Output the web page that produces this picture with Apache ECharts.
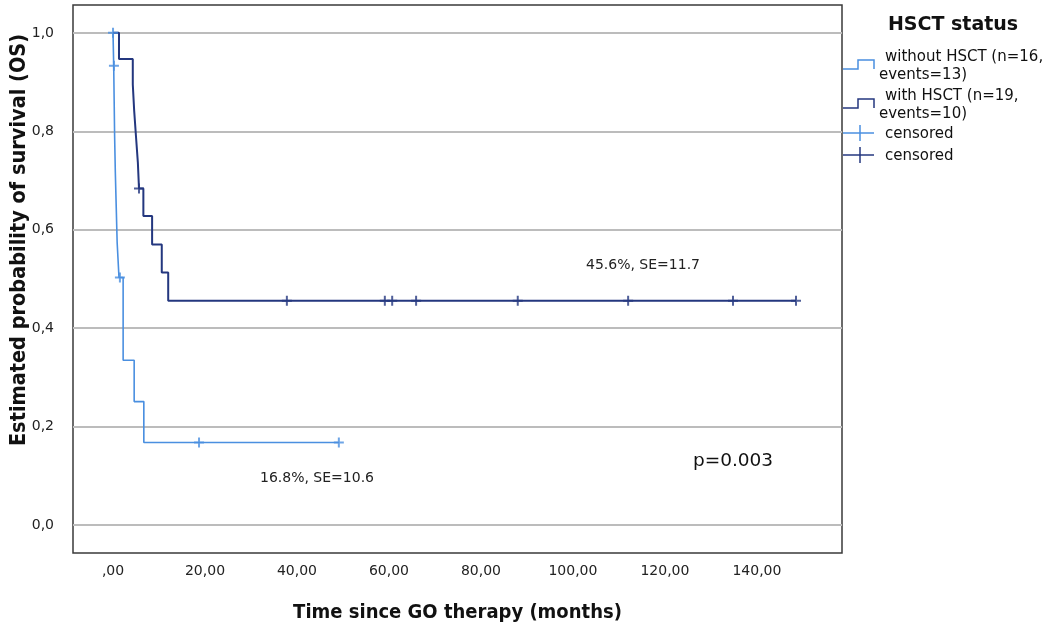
<!DOCTYPE html>
<html>
<head>
<meta charset="utf-8">
<script src="https://cdn.jsdelivr.net/npm/echarts@6/dist/echarts.min.js"></script>
<style>
  html, body { margin: 0; padding: 0; background: #fff; }
  #chart { width: 1063px; height: 628px; }
</style>
</head>
<body>
<div id="chart"></div>
<script>
// without HSCT (light blue) - step points [time, survival]
var withoutTime = [0, 0.15, 0.25, 0.35, 0.5, 0.7, 0.9, 1.3, 2.2, 4.6, 6.7, 49.1]
var withoutSurv = [1.0, 0.933, 0.862, 0.79, 0.718, 0.646, 0.574, 0.503, 0.335, 0.251, 0.168, 0.168]
var withoutCensorTime = [0, 0.2, 1.5, 18.7, 49.1]
var withoutCensorSurv = [1.0, 0.933, 0.503, 0.168, 0.168]

// with HSCT (dark blue)
var withTime = [0, 1.3, 4.3, 4.6, 5.0, 5.4, 5.65, 6.6, 8.5, 10.6, 12.0, 148.5]
var withSurv = [1.0, 0.947, 0.895, 0.842, 0.789, 0.737, 0.684, 0.628, 0.57, 0.513, 0.456, 0.456]
var withCensorTime = [5.65, 37.8, 59.1, 60.7, 65.9, 88.0, 112.0, 134.8, 148.5]
var withCensorSurv = [0.684, 0.456, 0.456, 0.456, 0.456, 0.456, 0.456, 0.456, 0.456]

var xTicks = [0, 20, 40, 60, 80, 100, 120, 140]
var yTicks = [0, 0.2, 0.4, 0.6, 0.8, 1.0]

var lightBlue = '#4a8fe0'
var darkBlue = '#24377f'
var crossPath = 'path://M4,0h2v4h4v2h-4v4h-2v-4h-4v-2h4z'

function zip(a, b) {
    var out = []
    a.forEach(function (v, i) { out.push([v, b[i]]) })
    return out
}

var myChart = echarts.init(document.getElementById('chart'))
myChart.setOption({
    animation: false,
    grid: {
        left: 73, top: 5, right: 221, bottom: 72,
        show: true, borderColor: '#3a3a3a', borderWidth: 1.5
    },
    xAxis: {
        type: 'value',
        min: -8.7,
        max: 158.5,
        name: 'Time since GO therapy (months)',
        nameLocation: 'middle',
        nameGap: 50,
        nameTextStyle: { fontFamily: 'DejaVu Sans Condensed', fontWeight: 'bold', fontSize: 20, color: '#111' },
        axisLine: { show: false },
        axisTick: { show: false, customValues: xTicks },
        splitLine: { show: false },
        axisLabel: {
            customValues: xTicks,
            margin: 11,
            fontFamily: 'DejaVu Sans',
            fontSize: 14,
            color: '#222',
            formatter: function (v) { return v === 0 ? ',00' : v + ',00' }
        }
    },
    yAxis: {
        type: 'value',
        min: -0.0566,
        max: 1.0566,
        axisLine: { show: false },
        axisTick: { show: false, customValues: yTicks },
        splitLine: { show: true, lineStyle: { color: '#bcbcbc', width: 1.8 } },
        axisLabel: {
            customValues: yTicks,
            margin: 19,
            fontFamily: 'DejaVu Sans',
            fontSize: 14,
            color: '#222',
            formatter: function (v) { return v.toFixed(1).replace('.', ',') }
        }
    },
    series: [
        {
            name: 'without HSCT',
            type: 'line',
            step: 'end',
            symbol: 'none',
            data: zip(withoutTime, withoutSurv),
            lineStyle: { color: lightBlue, width: 1.6 },
            z: 3
        },
        {
            name: 'with HSCT',
            type: 'line',
            step: 'end',
            symbol: 'none',
            data: zip(withTime, withSurv),
            lineStyle: { color: darkBlue, width: 2 },
            z: 4
        },
        {
            name: 'censored light',
            type: 'scatter',
            symbol: crossPath,
            symbolSize: 10,
            data: zip(withoutCensorTime, withoutCensorSurv),
            itemStyle: { color: lightBlue },
            z: 5
        },
        {
            name: 'censored dark',
            type: 'scatter',
            symbol: crossPath,
            symbolSize: 10,
            data: zip(withCensorTime, withCensorSurv),
            itemStyle: { color: darkBlue },
            z: 6
        }
    ],
    graphic: [
        {
            type: 'text', x: 19, y: 240, rotation: Math.PI / 2,
            style: {
                text: 'Estimated probability of survival (OS)',
                fontFamily: 'DejaVu Sans Condensed', fontWeight: 'bold', fontSize: 21.5,
                fill: '#111', align: 'center', verticalAlign: 'middle'
            }
        },
        { type: 'text', x: 643, y: 265, style: { text: '45.6%, SE=11.7', fontFamily: 'DejaVu Sans', fontSize: 14, fill: '#222', align: 'center', verticalAlign: 'middle' } },
        { type: 'text', x: 317, y: 478, style: { text: '16.8%, SE=10.6', fontFamily: 'DejaVu Sans', fontSize: 14, fill: '#222', align: 'center', verticalAlign: 'middle' } },
        { type: 'text', x: 733, y: 461, style: { text: 'p=0.003', fontFamily: 'DejaVu Sans', fontSize: 18.5, fill: '#111', align: 'center', verticalAlign: 'middle' } },
        // legend
        { type: 'text', x: 953, y: 25, style: { text: 'HSCT status', fontFamily: 'DejaVu Sans', fontWeight: 'bold', fontSize: 19, fill: '#111', align: 'center', verticalAlign: 'middle' } },
        { type: 'polyline', shape: { points: [[843, 69], [858, 69], [858, 60], [874, 60], [874, 69]] }, style: { stroke: lightBlue, lineWidth: 1.5, fill: null } },
        { type: 'text', x: 885, y: 57, style: { text: 'without HSCT (n=16,', fontFamily: 'DejaVu Sans', fontSize: 15, fill: '#111', verticalAlign: 'middle' } },
        { type: 'text', x: 879, y: 75, style: { text: 'events=13)', fontFamily: 'DejaVu Sans', fontSize: 15, fill: '#111', verticalAlign: 'middle' } },
        { type: 'polyline', shape: { points: [[843, 108], [858, 108], [858, 99], [874, 99], [874, 108]] }, style: { stroke: darkBlue, lineWidth: 1.5, fill: null } },
        { type: 'text', x: 885, y: 96, style: { text: 'with HSCT (n=19,', fontFamily: 'DejaVu Sans', fontSize: 15, fill: '#111', verticalAlign: 'middle' } },
        { type: 'text', x: 879, y: 114, style: { text: 'events=10)', fontFamily: 'DejaVu Sans', fontSize: 15, fill: '#111', verticalAlign: 'middle' } },
        { type: 'line', shape: { x1: 843, y1: 133, x2: 874, y2: 133 }, style: { stroke: lightBlue, lineWidth: 1.5 } },
        { type: 'line', shape: { x1: 860, y1: 125, x2: 860, y2: 141 }, style: { stroke: lightBlue, lineWidth: 1.5 } },
        { type: 'text', x: 885, y: 134, style: { text: 'censored', fontFamily: 'DejaVu Sans', fontSize: 15, fill: '#111', verticalAlign: 'middle' } },
        { type: 'line', shape: { x1: 843, y1: 155, x2: 874, y2: 155 }, style: { stroke: darkBlue, lineWidth: 1.5 } },
        { type: 'line', shape: { x1: 860, y1: 147, x2: 860, y2: 163 }, style: { stroke: darkBlue, lineWidth: 1.5 } },
        { type: 'text', x: 885, y: 156, style: { text: 'censored', fontFamily: 'DejaVu Sans', fontSize: 15, fill: '#111', verticalAlign: 'middle' } }
    ]
})
</script>
</body>
</html>
